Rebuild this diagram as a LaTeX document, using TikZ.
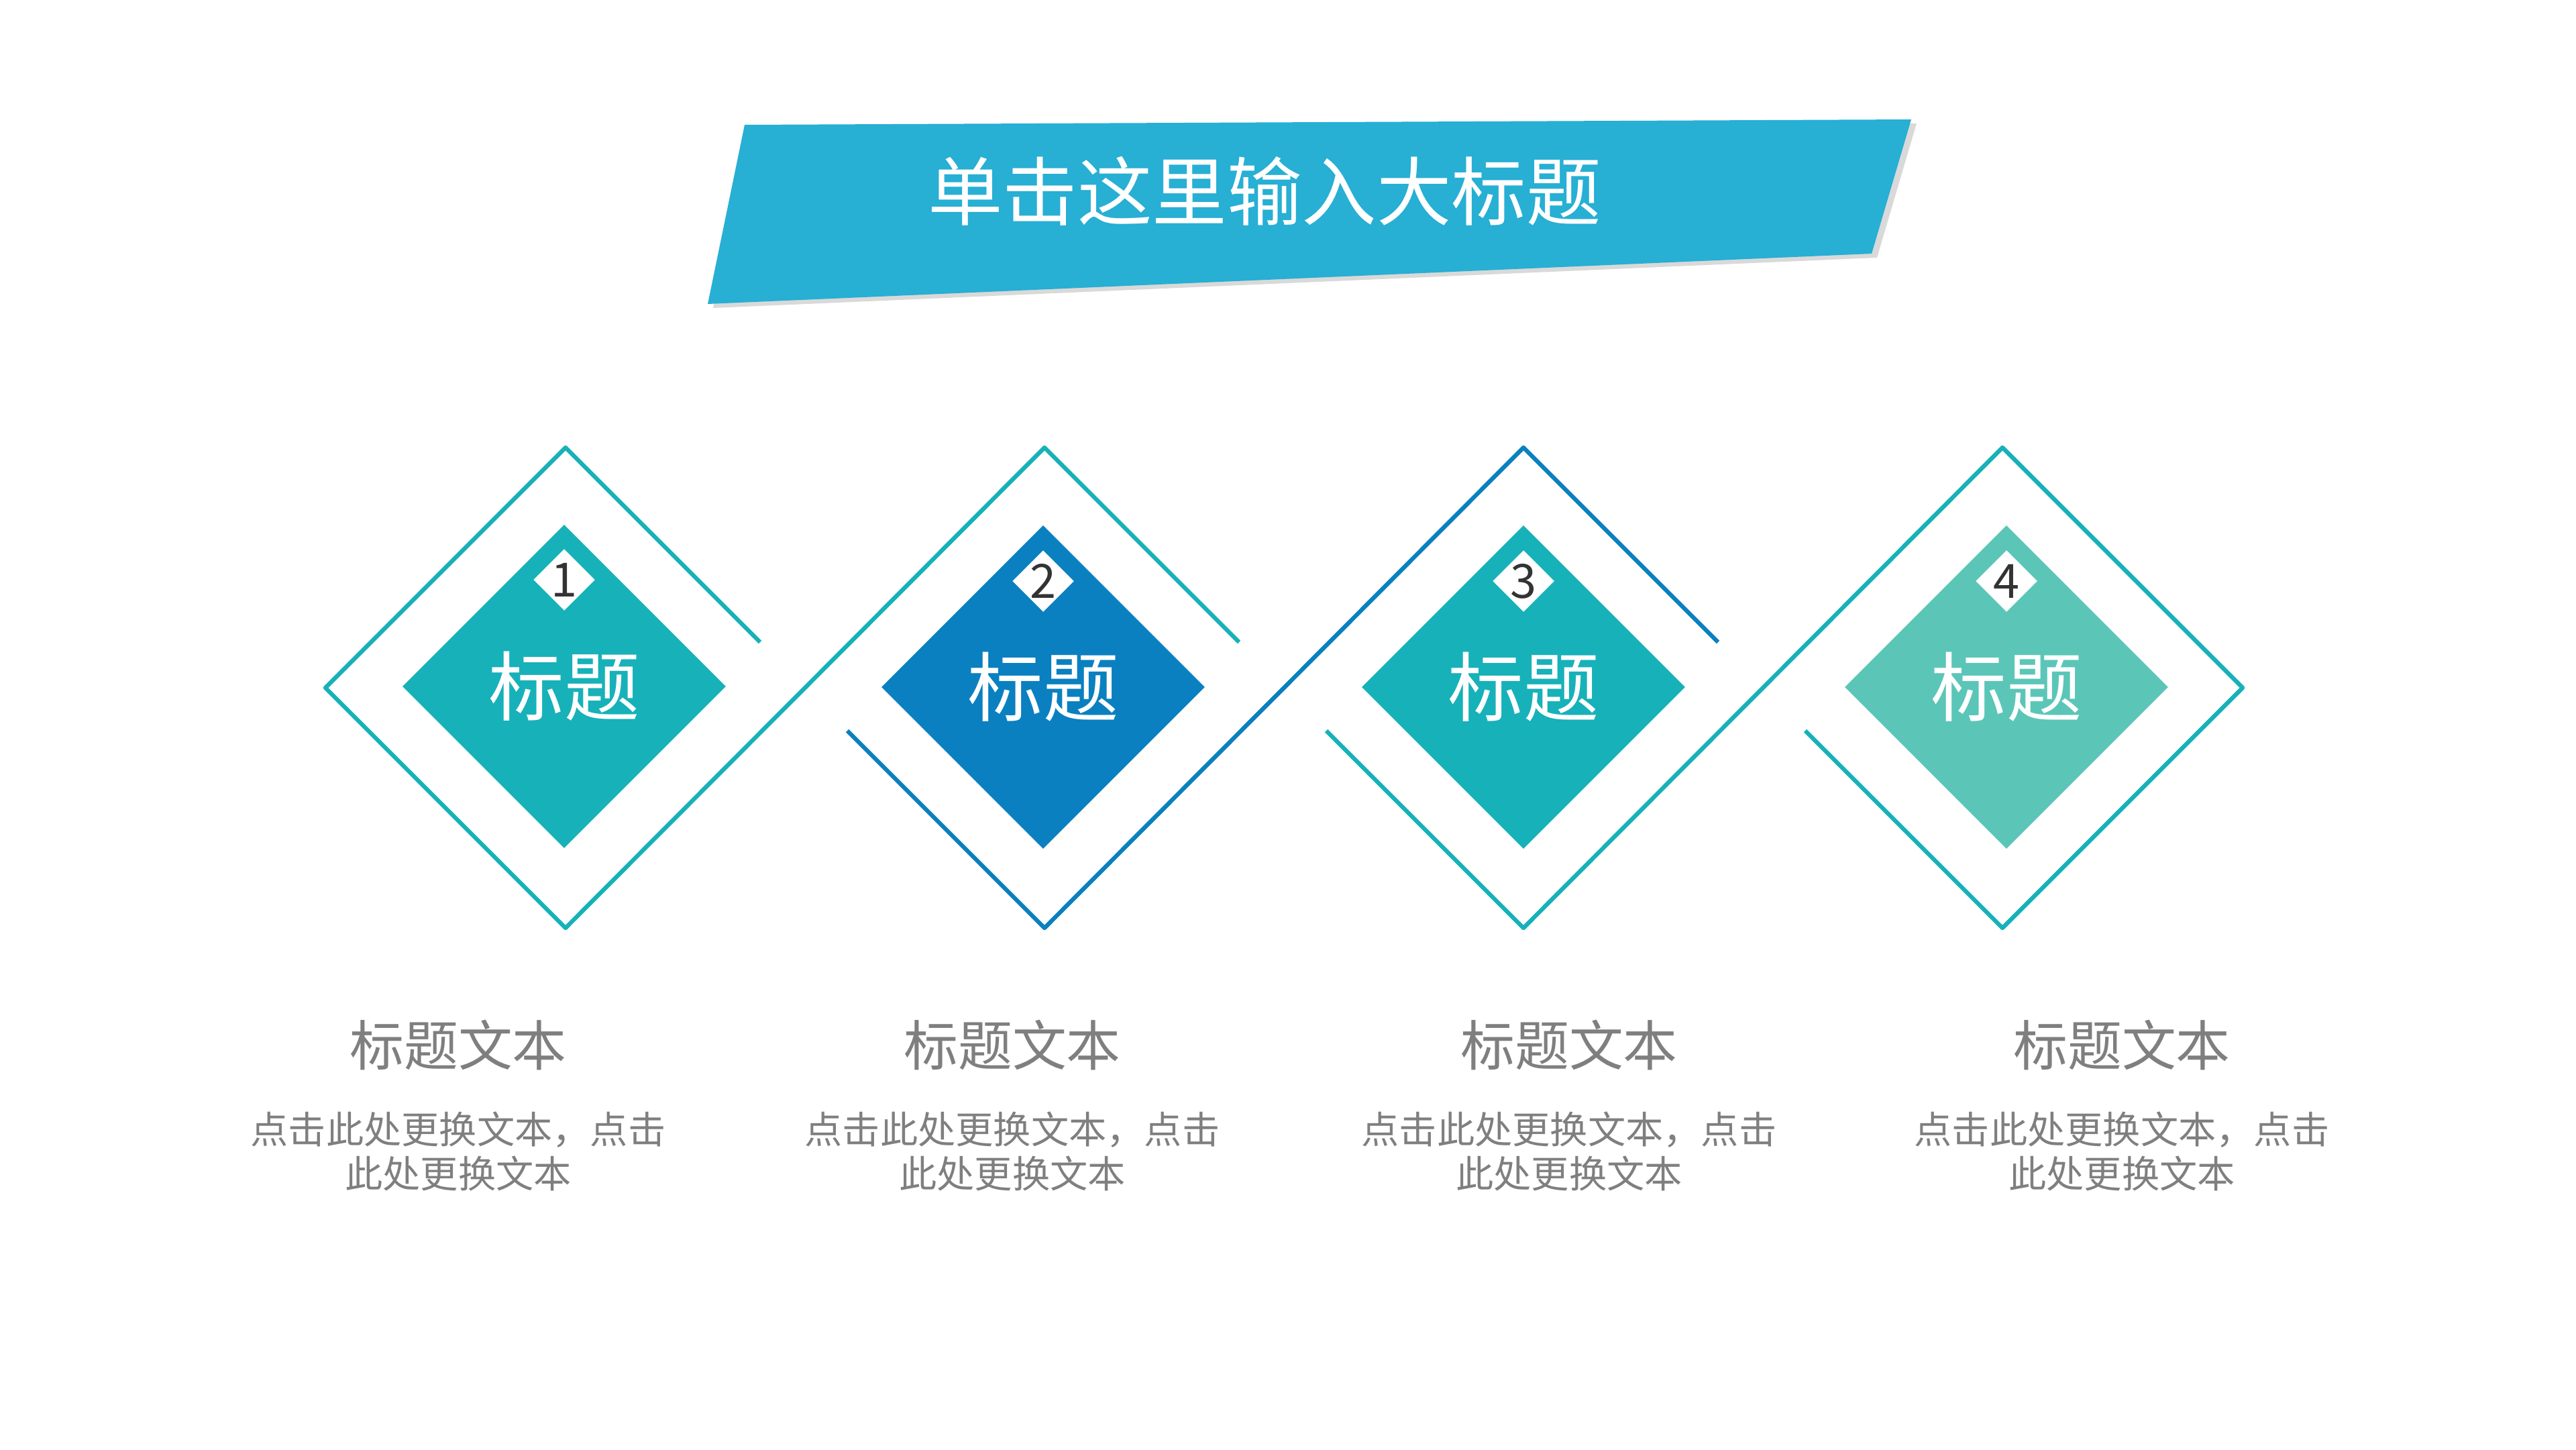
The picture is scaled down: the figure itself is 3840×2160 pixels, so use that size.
\documentclass[tikz,border=0pt]{standalone}
\usepackage{fontspec}
\newfontfamily\cjk{Noto Sans CJK SC}
\usetikzlibrary{shapes.geometric,shadows}

\definecolor{BannerBlue}{HTML}{27AFD4}
\definecolor{TealMain}{HTML}{17B1B9}
\definecolor{BlueMain}{HTML}{0A80C0}
\definecolor{MintMain}{HTML}{5BC6B8}
\definecolor{NumGray}{HTML}{333333}
\definecolor{TextGray}{HTML}{7F7F7F}

\begin{document}
\begin{tikzpicture}[x=0.01cm,y=-0.01cm]
\tikzstyle{every node}=[font=\cjk]
\tikzstyle{frame}=[line width=1.8pt,line join=round]
\tikzstyle{bigbox}=[diamond,minimum size=4.82cm,inner sep=0pt,text=white,font=\cjk\fontsize{32}{38}\selectfont]
\tikzstyle{numbox}=[diamond,fill=white,minimum size=0.92cm,inner sep=0pt]
\tikzstyle{numtext}=[text=NumGray,font=\cjk\fontsize{20}{24}\selectfont]
\tikzstyle{headtext}=[text=TextGray,font=\cjk\fontsize{23}{28}\selectfont]
\tikzstyle{bodytext}=[text=TextGray,align=center,font=\cjk\fontsize{16}{19}\selectfont]

\useasboundingbox (0,0) rectangle (3840,2160);

\coordinate (BannerTopLeft) at (1110,186);
\coordinate (BannerTopRight) at (2849,178);
\coordinate (BannerBottomRight) at (2790,378);
\coordinate (BannerBottomLeft) at (1055,453);

\coordinate (FrameTopOne) at (843,667);
\coordinate (FrameLeftOne) at (485,1025);
\coordinate (FrameBottomOne) at (843,1383);
\coordinate (FrameEndOne) at (1133,957);
\coordinate (FrameTopTwo) at (1557,667);
\coordinate (FrameStartTwo) at (1263,1089);
\coordinate (FrameBottomTwo) at (1557,1383);
\coordinate (FrameEndTwo) at (1847,957);
\coordinate (FrameTopThree) at (2271,667);
\coordinate (FrameStartThree) at (1977,1089);
\coordinate (FrameBottomThree) at (2271,1383);
\coordinate (FrameEndThree) at (2561,957);
\coordinate (FrameTopFour) at (2985,667);
\coordinate (FrameStartFour) at (2691,1089);
\coordinate (FrameBottomFour) at (2985,1383);
\coordinate (FrameRightFour) at (3343,1025);

\fill[BannerBlue,drop shadow={shadow xshift=0.08cm,shadow yshift=-0.06cm,fill=black!25,opacity=.6}] (BannerTopLeft) -- (BannerTopRight) -- (BannerBottomRight) -- (BannerBottomLeft) -- cycle;
\node[text=white,font=\cjk\fontsize{31.7}{38}\selectfont] (Title) at (1885,285) {单击这里输入大标题};

\draw[frame,TealMain] (FrameEndOne) -- (FrameTopOne) -- (FrameLeftOne) -- (FrameBottomOne) -- (FrameTopTwo) -- (FrameEndTwo);
\draw[frame,BlueMain] (FrameStartTwo) -- (FrameBottomTwo) -- (FrameTopThree) -- (FrameEndThree);
\draw[frame,TealMain] (FrameStartThree) -- (FrameBottomThree) -- (FrameTopFour) -- (FrameRightFour) -- (FrameBottomFour) -- (FrameStartFour);

\node[bigbox,fill=TealMain] (BoxOne) at (841,1023) {标题};
\node[bigbox,fill=BlueMain] (BoxTwo) at (1555,1024) {标题};
\node[bigbox,fill=TealMain] (BoxThree) at (2271,1024) {标题};
\node[bigbox,fill=MintMain] (BoxFour) at (2991,1024) {标题};

\node[numbox] (NumOne) at (841,864) {};
\node[numbox] (NumTwo) at (1555,866) {};
\node[numbox] (NumThree) at (2271,866) {};
\node[numbox] (NumFour) at (2991,866) {};
\node[numtext] (DigitOne) at (NumOne) {1};
\node[numtext] (DigitTwo) at (NumTwo) {2};
\node[numtext] (DigitThree) at (NumThree) {3};
\node[numtext] (DigitFour) at (NumFour) {4};

\node[headtext] (HeadOne) at (683,1557) {标题文本};
\node[headtext] (HeadTwo) at (1509,1557) {标题文本};
\node[headtext] (HeadThree) at (2339,1557) {标题文本};
\node[headtext] (HeadFour) at (3163,1557) {标题文本};
\node[bodytext] (BodyOne) at (683,1716) {点击此处更换文本，点击\\此处更换文本};
\node[bodytext] (BodyTwo) at (1509,1716) {点击此处更换文本，点击\\此处更换文本};
\node[bodytext] (BodyThree) at (2339,1716) {点击此处更换文本，点击\\此处更换文本};
\node[bodytext] (BodyFour) at (3163,1716) {点击此处更换文本，点击\\此处更换文本};
\end{tikzpicture}
\end{document}
